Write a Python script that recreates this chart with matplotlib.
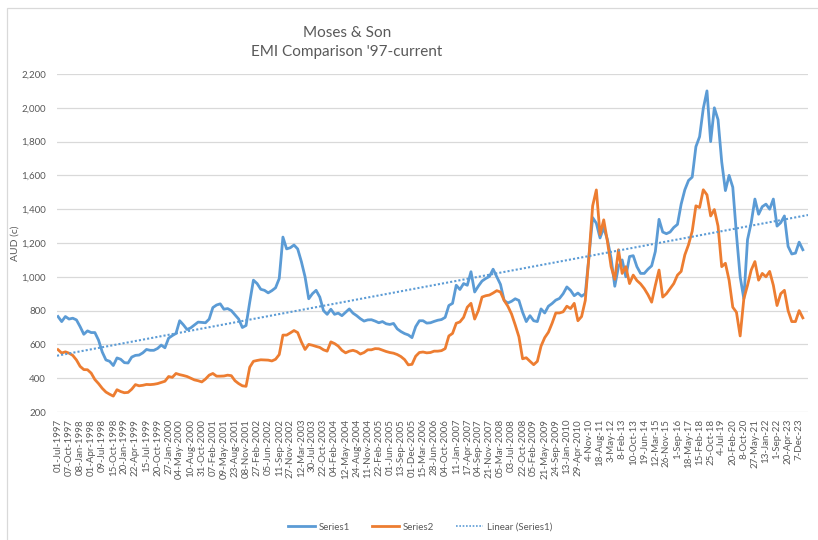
import numpy as np
import matplotlib
matplotlib.use("Agg")
import matplotlib.pyplot as plt
from matplotlib.lines import Line2D
from matplotlib.patches import Rectangle
from matplotlib.ticker import FuncFormatter

# category labels shown on the x axis (every 3rd data point)
tick_labels = [
    "01-Jul-1997", "07-Oct-1997", "08-Jan-1998", "01-Apr-1998", "09-Jul-1998",
    "15-Oct-1998", "20-Jan-1999", "22-Apr-1999", "15-Jul-1999", "20-Oct-1999",
    "27-Jan-2000", "04-May-2000", "10-Aug-2000", "31-Oct-2000", "07-Feb-2001",
    "09-May-2001", "23-Aug-2001", "08-Nov-2001", "27-Feb-2002", "05-Jun-2002",
    "11-Sep-2002", "27-Nov-2002", "12-Mar-2003", "30-Jul-2003", "22-Oct-2003",
    "04-Feb-2004", "12-May-2004", "24-Aug-2004", "11-Nov-2004", "22-Feb-2005",
    "01-Jun-2005", "13-Sep-2005", "01-Dec-2005", "15-Mar-2006", "28-Jun-2006",
    "04-Oct-2006", "11-Jan-2007", "17-Apr-2007", "04-Sep-2007", "21-Nov-2007",
    "05-Mar-2008", "03-Jul-2008", "22-Oct-2008", "05-Feb-2009", "21-May-2009",
    "24-Sep-2009", "13-Jan-2010", "29-Apr-2010", "4-Nov-10", "18-Aug-11",
    "3-May-12", "8-Feb-13", "10-Oct-13", "19-Jun-14", "12-Mar-15",
    "26-Nov-15", "1-Sep-16", "18-May-17", "15-Feb-18", "25-Oct-18",
    "4-Jul-19", "20-Feb-20", "8-Oct-20", "27-May-21", "13-Jan-22",
    "1-Sep-22", "20-Apr-23", "7-Dec-23",
]
label_step = 3

# Series1 (AUD cents)
series1 = [
    765, 735, 765, 750, 755, 745, 705, 660, 680, 670,
    670, 625, 555, 508, 500, 475, 520, 512, 492, 490,
    525, 535, 537, 550, 570, 565, 565, 576, 596, 580,
    637, 652, 665, 740, 716, 688, 698, 715, 732, 730,
    728, 750, 818, 833, 840, 808, 812, 800, 775, 750,
    700, 712, 850, 980, 960, 926, 920, 905, 918, 935,
    990, 1235, 1165, 1172, 1188, 1165, 1090, 1000, 870, 900,
    920, 880, 800, 778, 808, 778, 785, 770, 790, 810,
    785, 770, 752, 738, 745, 746, 738, 728, 735, 722,
    718, 724, 692, 676, 664, 656, 640, 705, 740, 740,
    726, 728, 736, 743, 747, 760, 830, 843, 950, 925,
    960, 950, 1030, 910, 945, 975, 990, 1002, 1045, 1000,
    955, 860, 845, 855, 870, 860, 790, 735, 770, 740,
    735, 810, 786, 826, 842, 862, 872, 900, 940, 920,
    888, 904, 885, 900, 1121, 1350, 1317, 1230, 1290, 1220,
    1110, 944, 1060, 1100, 1000, 1120, 1125, 1060, 1020, 1020,
    1045, 1065, 1150, 1340, 1265, 1255, 1265, 1292, 1310, 1430,
    1515, 1570, 1590, 1770, 1829, 1996, 2100, 1800, 2000, 1930,
    1680, 1510, 1600, 1530, 1250, 1000, 870, 1220, 1320, 1460,
    1370, 1415, 1430, 1400, 1460, 1300, 1320, 1360, 1180, 1135,
    1140, 1205, 1160,
]

# Series2 (AUD cents)
series2 = [
    569, 549, 556, 548, 535, 508, 470, 451, 450, 430,
    392, 368, 340, 318, 305, 294, 332, 321, 314, 316,
    335, 362, 355, 358, 363, 362, 364, 368, 375, 382,
    410, 405, 428, 421, 416, 410, 400, 390, 385, 378,
    395, 418, 428, 412, 412, 413, 418, 415, 385, 368,
    355, 352, 465, 500, 505, 509, 508, 507, 502, 512,
    540, 655, 655, 668, 682, 670, 615, 570, 600, 595,
    588, 582, 568, 560, 615, 605, 590, 565, 550, 560,
    565, 558, 543, 552, 568, 568, 575, 574, 566, 558,
    552, 548, 540, 528, 510, 479, 482, 530, 552, 555,
    550, 552, 560, 560, 563, 575, 650, 665, 725, 733,
    760, 820, 843, 750, 800, 880, 888, 892, 904, 918,
    910, 860, 826, 780, 715, 645, 515, 521, 500, 480,
    500, 590, 640, 672, 725, 786, 786, 793, 826, 812,
    843, 740, 765, 860, 1121, 1420, 1514, 1250, 1337, 1210,
    1060, 985, 1160, 1020, 1060, 960, 1010, 978, 958, 930,
    894, 850, 950, 1040, 880, 900, 930, 960, 1010, 1032,
    1130, 1190, 1270, 1420, 1410, 1515, 1485, 1360, 1398, 1300,
    1060, 1080, 980, 820, 790, 650, 870, 950, 1040, 1090,
    980, 1020, 1000, 1032, 950, 830, 900, 920, 800, 735,
    735, 800, 757,
]

blue = "#5B9BD5"
orange = "#ED7D31"
text_col = "#595959"
grid_col = "#D9D9D9"

plt.rcParams['font.family'] = ['Lato', 'DejaVu Sans']

fig = plt.figure(figsize=(8.18, 5.4), dpi=100)
ax = fig.add_axes([57 / 818, 128 / 540, 751 / 818, 338 / 540])

x = np.arange(len(series1))
ax.plot(x, series1, color=blue, lw=2.0, solid_joinstyle='round', zorder=3)
ax.plot(x, series2, color=orange, lw=2.0, solid_joinstyle='round', zorder=3)

# linear trend of Series1 across the whole axis
x_lo, x_hi = -0.27, 203.4
coef = np.polyfit(x, series1, 1)
xt = np.array([x_lo, x_hi])
ax.plot(xt, np.polyval(coef, xt), color=blue, lw=1.5, ls=(0, (1, 1)), zorder=4)

ax.set_xlim(x_lo, x_hi)
ax.set_ylim(200, 2200)
ax.set_yticks(np.arange(200, 2201, 200))
ax.yaxis.set_major_formatter(FuncFormatter(lambda v, p: f"{int(v):,}"))
ax.grid(axis='y', color=grid_col, lw=0.9)
ax.set_axisbelow(True)

ax.set_xticks(np.arange(len(tick_labels)) * label_step)
ax.set_xticklabels(tick_labels, rotation=90, va='top', ha='center')
ax.tick_params(axis='both', length=0, labelsize=7, colors=text_col)
ax.tick_params(axis='x', pad=5)
ax.tick_params(axis='y', pad=8)
for s in ax.spines.values():
    s.set_visible(False)

ax.set_ylabel("AUD (c)", fontsize=7.5, color=text_col, labelpad=1)

fig.text(347 / 818, 1 - 33 / 540, "Moses & Son", ha='center', va='center',
         fontsize=11, color=text_col)
fig.text(347 / 818, 1 - 52 / 540, "EMI Comparison '97-current", ha='center',
         va='center', fontsize=11, color=text_col)

handles = [
    Line2D([], [], color=blue, lw=2.0),
    Line2D([], [], color=orange, lw=2.0),
    Line2D([], [], color=blue, lw=1.2, ls=(0, (1, 1))),
]
fig.legend(handles, ["Series1", "Series2", "Linear (Series1)"], ncol=3,
           loc='center', bbox_to_anchor=(420 / 818, 13 / 540), frameon=False,
           fontsize=7, labelcolor=text_col, handlelength=2.8, columnspacing=2.2,
           handletextpad=0.4)

# chart area outline (only the top and left edges are in view)
fig.patches.append(Rectangle((6.5 / 818, -0.1), 2, 1.1 - 8 / 540,
                             transform=fig.transFigure, fill=False,
                             edgecolor=grid_col, lw=0.9))

fig.savefig("out.png", dpi=100)
